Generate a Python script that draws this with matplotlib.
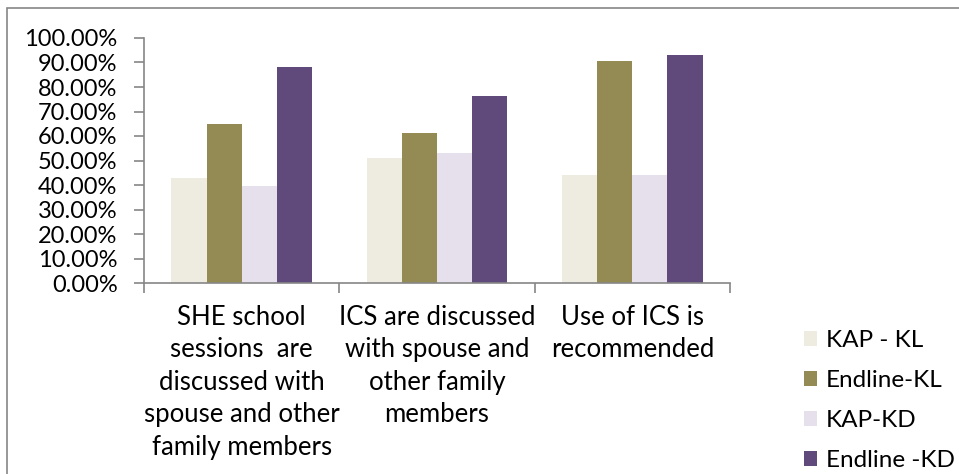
import matplotlib
matplotlib.use("Agg")
import matplotlib.pyplot as plt
from matplotlib.patches import Rectangle
import numpy as np

plt.rcParams['font.family'] = ['Lato', 'DejaVu Sans']

categories = [
    "SHE school\nsessions  are\ndiscussed with\nspouse and other\nfamily members",
    "ICS are discussed\nwith spouse and\nother family\nmembers",
    "Use of ICS is\nrecommended",
]
series_names = ["KAP - KL", "Endline-KL", "KAP-KD", "Endline -KD"]
kap_kl = [0.429, 0.510, 0.440]
endline_kl = [0.649, 0.614, 0.905]
kap_kd = [0.396, 0.529, 0.440]
endline_kd = [0.880, 0.763, 0.929]
yticks = [0.0, 0.1, 0.2, 0.3, 0.4, 0.5, 0.6, 0.7, 0.8, 0.9, 1.0]

colors = ["#EEECE1", "#948A54", "#E5E0EC", "#604A7B"]
series = [kap_kl, endline_kl, kap_kd, endline_kd]

W, H = 959, 474
fig = plt.figure(figsize=(W / 100, H / 100), dpi=100)
ax = fig.add_axes([144 / W, 1 - 283 / H, (730 - 144) / W, (283 - 38) / H])

# outer chart border
fig.patches.append(Rectangle((7 / W, -0.1), 1.2, 1 - 8 / H + 0.1,
                             transform=fig.transFigure, fill=False,
                             edgecolor="#868686", linewidth=1.2))

x = np.arange(len(categories))
bw = 0.18
offsets = (np.arange(4) - 1.5) * bw
handles = []
for vals, off, col, name in zip(series, offsets, colors, series_names):
    b = ax.bar(x + off, vals, width=bw, color=col, label=name, linewidth=0)
    handles.append(b)

ax.set_xlim(-0.5, 2.5)
ax.set_ylim(0, 1.0)
ax.set_yticks(yticks)
ax.set_yticklabels([f"{v * 100:.2f}%" for v in yticks])
ax.set_xticks([-0.5, 0.5, 1.5, 2.5])
ax.set_xticklabels([])

for side in ["top", "right"]:
    ax.spines[side].set_visible(False)
for side in ["left", "bottom"]:
    ax.spines[side].set_color("#868686")
    ax.spines[side].set_linewidth(1.2)
ax.tick_params(axis="both", color="#868686", length=7, width=1.2)
ax.tick_params(axis="y", labelsize=17, pad=12, colors="#868686", labelcolor="black")
ax.tick_params(axis="x", colors="#868686")

for xi, lab in zip(x, categories):
    ax.text(xi, -0.088, lab, transform=ax.get_xaxis_transform(), ha="center",
            va="top", fontsize=18.5, linespacing=1.38)

fig.legend(handles=handles, labels=series_names, loc="upper left",
           bbox_to_anchor=(804 / W, 1 - 330 / H), frameon=False,
           fontsize=17.5, handlelength=0.55, handleheight=0.55,
           handletextpad=0.35, labelspacing=0.78, borderaxespad=0, borderpad=0)

fig.savefig("out.png", dpi=100)
